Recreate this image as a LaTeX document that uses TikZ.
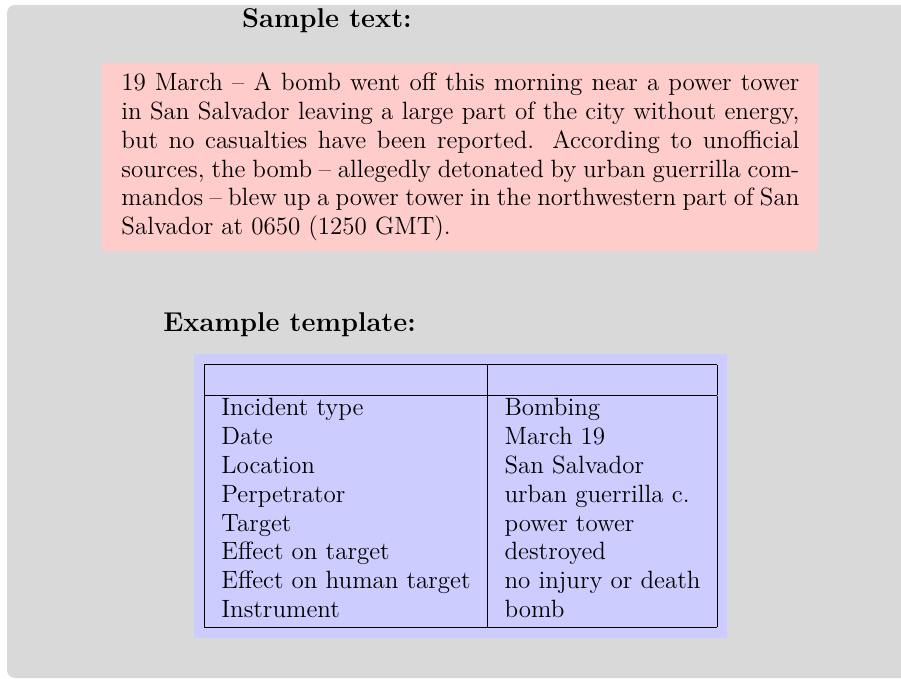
\documentclass[tikz,border=0pt]{standalone}
\usepackage{tikz}
\usepackage{amsmath}

\begin{document}
\begin{tikzpicture}[x=0.5pt,y=-0.5pt,
	body/.style={font=\fontsize{12.5}{14.4}\selectfont},
	heading/.style={font=\fontsize{13.6}{14.4}\selectfont\bfseries,anchor=base west,inner sep=0pt}]
%
	\useasboundingbox (0,0) rectangle (901,679);
	\fill[black!15,rounded corners=4pt] (7,5) rectangle (940,678);
%
	\node[heading,anchor=base] (sampletitle) at (327,28) {Sample text:};
	\node[body,fill=red!20,anchor=north west,text width=339pt,align=justify,
		inner xsep=9.5pt,inner ysep=4.75pt] (sample) at (102,63)
		{19 March -- A bomb went off this morning near a power tower\linebreak
		in San Salvador leaving a large part of the city without energy,\linebreak
		but no casualties have been reported. According to unofficial\linebreak
		sources, the bomb -- allegedly detonated by urban guerrilla com-\linebreak
		mandos -- blew up a power tower in the northwestern part of San\linebreak
		Salvador at 0650 (1250 GMT).};
%
	\node[heading] (templatetitle) at (163,332) {Example template:};
	\node[body,fill=blue!20,anchor=north west,inner sep=5pt] (template) at (194,354)
		{\setlength{\tabcolsep}{8.5pt}%
		\begin{tabular}{|l|l|}
			\hline
			& \\[0.5pt]
			\hline
			Incident type & Bombing \\
			Date & March 19 \\
			Location & San Salvador \\
			Perpetrator & urban guerrilla c. \\
			Target & power tower \\
			Effect on target & destroyed \\
			Effect on human target & no injury or death \\
			Instrument & bomb \\[0.5pt]
			\hline
		\end{tabular}};
\end{tikzpicture}
\end{document}
